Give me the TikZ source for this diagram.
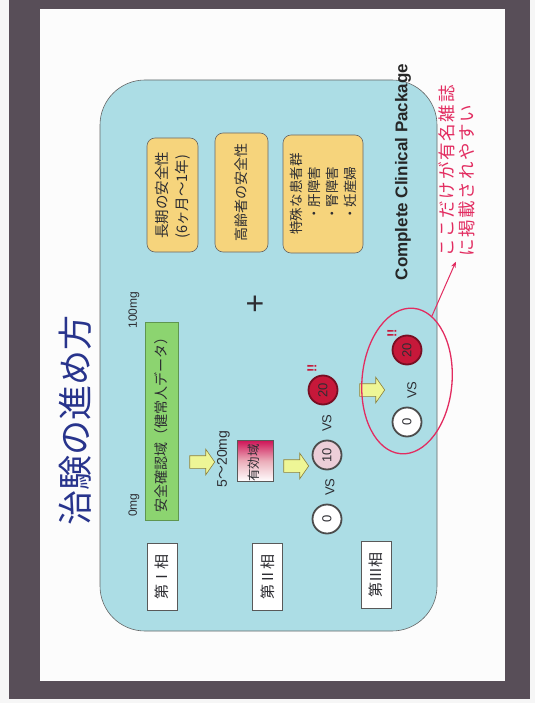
\documentclass[tikz,border=0pt]{standalone}
\usepackage{fontspec}
\setmainfont{Liberation Sans}
\newfontfamily\jp{Noto Sans CJK JP}
\newfontfamily\jpsp[LetterSpace=10]{Noto Sans CJK JP}
\usetikzlibrary{shapes.geometric,shapes.arrows,arrows.meta}
\definecolor{paperc}{RGB}{246,246,246}
\definecolor{framec}{RGB}{88,78,88}
\definecolor{pagec}{RGB}{252,252,252}
\definecolor{bluec}{RGB}{172,221,229}
\definecolor{greenc}{RGB}{140,212,112}
\definecolor{greend}{RGB}{95,150,80}
\definecolor{orangec}{RGB}{246,212,124}
\definecolor{navyc}{RGB}{40,52,140}
\definecolor{pinkred}{RGB}{226,44,96}
\definecolor{redc}{RGB}{198,24,58}
\definecolor{pinkc}{RGB}{236,206,216}
\definecolor{yfill}{RGB}{238,246,150}
\definecolor{ydraw}{RGB}{140,128,60}
\definecolor{textc}{RGB}{45,45,50}
\begin{document}
\begin{tikzpicture}[x=1pt,y=-1pt,
  rot/.style={rotate=90,inner sep=1pt,text=textc},
  jp14/.style={font=\jp\fontsize{14}{18}\selectfont},
  obox/.style={rotate=90,draw=gray!80!black,fill=orangec,rounded corners=8pt,
    line width=0.6pt,text=textc,inner sep=2pt},
  phasebox/.style={rotate=90,draw=gray!70!black,fill=white,line width=0.6pt,
    minimum width=67pt,minimum height=30pt,inner sep=0pt,text=textc,
    font=\jp\fontsize{15}{18}\selectfont},
  yarrow/.style={single arrow,draw=ydraw,fill=yfill,line width=0.6pt,
    minimum height=25pt,inner sep=6pt,single arrow head extend=6.5pt,
    single arrow tip angle=110,single arrow head indent=0pt},
  dot/.style={circle,minimum size=29pt,inner sep=0pt,line width=1.8pt,
    rotate=90,text=textc,font=\fontsize{13}{15}\selectfont},
  dotwhite/.style={dot,draw=gray!60!black,fill=white},
  dotpink/.style={dot,draw=gray!60!black,fill=pinkc},
  dotred/.style={dot,draw=redc!60!black,fill=redc},
  vs/.style={rot,font=\fontsize{13}{15}\selectfont},
  bang/.style={rot,text=redc,font=\bfseries\fontsize{13}{15}\selectfont},
  mg/.style={rot,font=\fontsize{12}{14}\selectfont}
]
\useasboundingbox (0,0) rectangle (535,703);
\fill[paperc] (0,0) rectangle (535,703);
\fill[framec] (9,0) rectangle (530,699);
\fill[pagec] (40,9) rectangle (505,681);
\draw[fill=bluec,draw=gray!80!black,line width=0.6pt,rounded corners=45pt] (100,80) rectangle (437,631);

% title
\node[rotate=90,text=navyc,font=\jp\fontsize{35}{40}\selectfont] (title) at (75,420) {治験の進め方};

% phase I
\node[mg] (mg0) at (134,505) {0mg};
\node[mg] (mg100) at (134,310) {100mg};
\node[rotate=90,draw=greend,fill=greenc,line width=0.6pt,minimum width=198pt,minimum height=33pt,
  inner sep=0pt,text=textc,jp14] (safe) at (161.5,421) {安全確認域（健常人データ）};
\node[yarrow] (a1) at (200,462) {};
\node[rot,font=\fontsize{14}{16}\selectfont] (dose) at (223.5,459) {5{\jp ～}20mg};
\node[draw=gray!70!black,line width=0.5pt,top color=redc!85!magenta,bottom color=white,
  middle color=redc!35!white,minimum width=36pt,minimum height=41pt,inner sep=0pt] (eff) at (255,461) {};
\node[rot,font=\jp\fontsize{12.5}{14}\selectfont] (efftxt) at (254,463) {有効域};

% phase II
\node[yarrow] (a2) at (294,466) {};
\node[dotwhite] (c0a) at (327,519) {0};
\node[vs] (vs1) at (330,487) {VS};
\node[dotpink] (c10) at (327,455) {10};
\node[vs] (vs2) at (327,423) {VS};
\node[dotred] (c20a) at (323,390) {20};
\node[bang] (b1) at (312,368) {!!};

% phase III
\node[yarrow] (a3) at (370,390) {};
\node[dotwhite] (c0b) at (407,422) {0};
\node[vs] (vs3) at (412,390) {VS};
\node[dotred] (c20b) at (407,350) {20};
\node[bang] (b2) at (392,333) {!!};
\node[ellipse,draw=pinkred,line width=1.3pt,minimum width=90pt,minimum height=146pt,rotate=-5] (ell) at (407,381) {};

% plus
\node[text=textc,font=\fontsize{32}{32}\selectfont] (plus) at (255,305) {+};

% orange boxes
\node[obox,minimum width=114pt,minimum height=51pt,align=left,
  font=\jp\fontsize{14.5}{20}\selectfont] (long) at (172.5,195) {長期の安全性\\(6ヶ月～1年)};
\node[obox,minimum width=119pt,minimum height=53pt,
  font=\jp\fontsize{14}{18}\selectfont] (elder) at (241.5,192.5) {高齢者の安全性};
\node[obox,minimum width=118pt,minimum height=80pt,align=left,
  font=\jp\fontsize{13.5}{18}\selectfont] (special) at (323,194)
  {特殊な患者群\\\hspace*{1em}・肝障害\\\hspace*{1em}・腎障害\\\hspace*{1em}・妊産婦};

% complete clinical package
\node[rot,text=black!85,font=\bfseries\fontsize{17}{20}\selectfont] (ccp) at (403,172) {Complete Clinical Package};

% phase labels
\node[phasebox] (p1) at (162,576.5) {第Ⅰ相};
\node[phasebox] (p2) at (267.5,576.5) {第Ⅱ相};
\node[phasebox] (p3) at (376,575) {第Ⅲ相};

% note
\node[rotate=90,anchor=west,align=left,text=pinkred,inner sep=2pt,
  font=\jpsp\fontsize{17.5}{19.5}\selectfont] (note) at (457,259) {ここだけが有名雑誌\\に掲載されやすい};
\draw[pinkred,line width=1pt,-{Stealth[length=6pt,width=5pt]},shorten >=3pt] (ell.74) -- (note.west);
\end{tikzpicture}
\end{document}
